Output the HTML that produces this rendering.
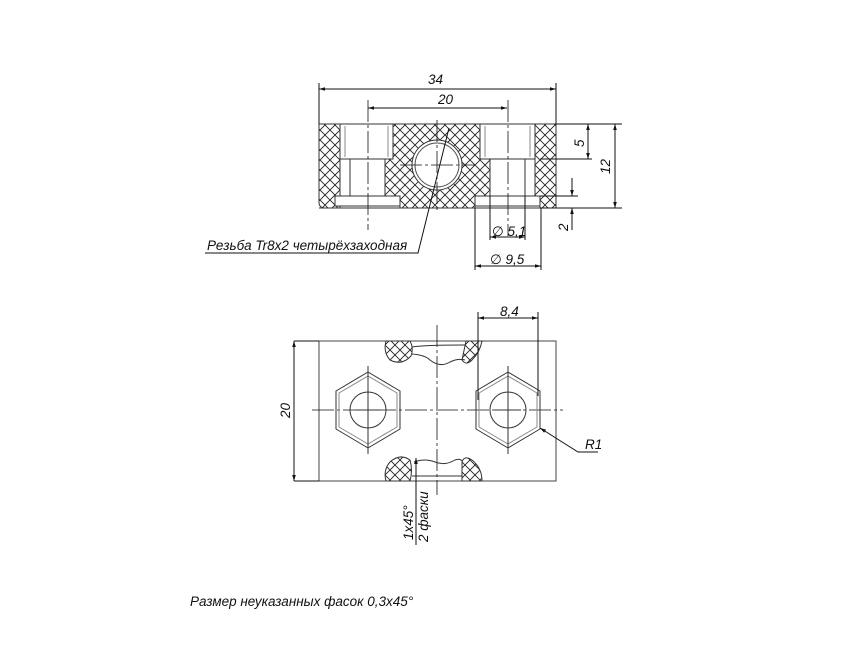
<!DOCTYPE html>
<html><head><meta charset="utf-8"><style>
html,body{margin:0;padding:0;background:#fff;}
svg{display:block;}
text{font-family:"Liberation Sans","DejaVu Sans",sans-serif;font-style:italic;fill:#111;}
</style></head><body>
<svg width="866" height="650" viewBox="0 0 866 650" xmlns="http://www.w3.org/2000/svg">
<defs>
<pattern id="h" width="10" height="10" patternUnits="userSpaceOnUse">
<path d="M0,0 L10,10 M10,0 L0,10 M-1,9 L1,11 M9,-1 L11,1 M-1,1 L1,-1 M9,11 L11,9" stroke="#222" stroke-width="0.9"/>
</pattern>
<marker id="a" viewBox="0 0 10 10" refX="10" refY="5" markerWidth="9" markerHeight="6" orient="auto-start-reverse" markerUnits="userSpaceOnUse"><path d="M0,2 L10,5 L0,8 z" fill="#111"/></marker>
</defs>
<g stroke="#111" fill="none" stroke-width="1">
<g fill="url(#h)" stroke="#333" stroke-width="1">
<path d="M319,124 H340 V196 H335 V206 H340 V208 H325 Q319,208 319,202 Z"/>
<path d="M535,124 H556 V208 H540 V196 H535 Z"/>
<path d="M393,124 H480 V159 H490 V196 H475 V208 H400 V196 H385 V159 H393 Z"/>
</g>
<circle cx="437" cy="165" r="25" fill="#fff" stroke="#333"/>
<circle cx="437" cy="165" r="22" stroke="#555"/>
<path d="M340,124 V159 M393,124 V159 M480,124 V159 M535,124 V159 M385,159 H340 M535,159 H490" stroke="#333"/>
<path d="M345,126 V157 M388,126 V157 M485,126 V157 M530,126 V157" stroke="#888"/>
<path d="M350,159 V196 M525,159 V196 M335,196 H400 M475,196 H540 M335,206 H400 M475,206 H540" stroke="#333"/>
<line x1="319" y1="124" x2="556" y2="124" stroke="#333"/>
<line x1="319" y1="208" x2="556" y2="208" stroke="#333"/>
<path d="M368,100 V230 M508,100 V236 M437,120 V212 M400,165 H475" stroke-width="0.8" stroke-dasharray="22,3,3,3"/>
<path d="M319,124 V83 M556,124 V83"/>
<line x1="319" y1="89" x2="556" y2="89" marker-start="url(#a)" marker-end="url(#a)"/>
<line x1="368" y1="108" x2="507" y2="108" marker-start="url(#a)" marker-end="url(#a)"/>
<path d="M556,124 H622 M540,159 H592 M540,208 H622 M540,196 H578"/>
<line x1="588" y1="124" x2="588" y2="159" marker-start="url(#a)" marker-end="url(#a)"/>
<line x1="615" y1="124" x2="615" y2="208" marker-start="url(#a)" marker-end="url(#a)"/>
<line x1="572" y1="178" x2="572" y2="196" marker-end="url(#a)"/>
<line x1="572" y1="230" x2="572" y2="208" marker-end="url(#a)"/>
<path d="M490,196 V240 M525,196 V240 M475,208 V270 M541,208 V270"/>
<line x1="490" y1="237" x2="525" y2="237" marker-start="url(#a)" marker-end="url(#a)"/>
<line x1="475" y1="266" x2="541" y2="266" marker-start="url(#a)" marker-end="url(#a)"/>
<path d="M449,128 L418,253 H205"/>
<rect x="319" y="341" width="237" height="140" stroke="#444"/>
<path d="M294,341 H319 M294,481 H319"/>
<line x1="294" y1="341" x2="294" y2="481" marker-start="url(#a)" marker-end="url(#a)"/>
<path d="M312,410 H563 M437,325 V495" stroke-width="0.8" stroke-dasharray="22,3,3,3"/>
<g stroke="#333" stroke-linejoin="round">
<polygon points="368,372 400,391 400,429 368,448 336,429 336,391"/>
<polygon points="368,376 397,393 397,427 368,444 339,427 339,393" stroke="#888"/>
<circle cx="368" cy="410" r="18"/>
<path d="M368,366 V454 M355,410 H381"/>
<polygon points="508,372 540,391 540,429 508,448 476,429 476,391"/>
<polygon points="508,376 537,393 537,427 508,444 479,427 479,393" stroke="#888"/>
<circle cx="508" cy="410" r="18"/>
<path d="M508,366 V454 M495,410 H521"/>
</g>
<g fill="url(#h)" stroke="#333">
<path d="M386,341 H410 Q414,348 411,356 Q402,366 390,360 Q383,352 386,341 Z"/>
<path d="M466,341 H482 Q480,352 472,360 Q466,366 462,360 L466,341 Z"/>
<path d="M386,481 H410 Q413,470 410,460 Q400,453 390,462 Q383,470 386,481 Z"/>
<path d="M462,481 H482 Q482,468 472,460 Q464,455 462,462 Z"/>
</g>
<path d="M412,347 Q425,345 465,345 M412,354 Q425,355 430,360 Q440,368 450,362 Q458,358 465,360 M412,476 H462 M414,462 Q425,458 435,462 Q445,466 455,460 Q460,458 462,461" stroke="#333"/>
<path d="M478,400 V312 M538,396 V312"/>
<line x1="478" y1="318" x2="538" y2="318" marker-start="url(#a)" marker-end="url(#a)"/>
<path d="M598,452 H578 L540,428" marker-end="url(#a)"/>
<line x1="416" y1="545" x2="416" y2="458" marker-end="url(#a)"/>
</g>
<g font-size="13.5">
<text x="428" y="84">34</text>
<text x="438" y="104">20</text>
<text x="584" y="147" transform="rotate(-90 584 147)">5</text>
<text x="610" y="174" transform="rotate(-90 610 174)">12</text>
<text x="568" y="231" transform="rotate(-90 568 231)">2</text>
<text x="492" y="236">∅ 5,1</text>
<text x="490" y="264">∅ 9,5</text>
<text x="207" y="250">Резьба Tr8x2 четырёхзаходная</text>
<text x="290" y="418" transform="rotate(-90 290 418)">20</text>
<text x="500" y="316">8,4</text>
<text x="585" y="449">R1</text>
<text x="413" y="540" transform="rotate(-90 413 540)">1x45°</text>
<text x="428" y="542" transform="rotate(-90 428 542)">2 фаски</text>
<text x="190" y="606">Размер неуказанных фасок 0,3x45°</text>
</g>
</svg>
</body></html>
